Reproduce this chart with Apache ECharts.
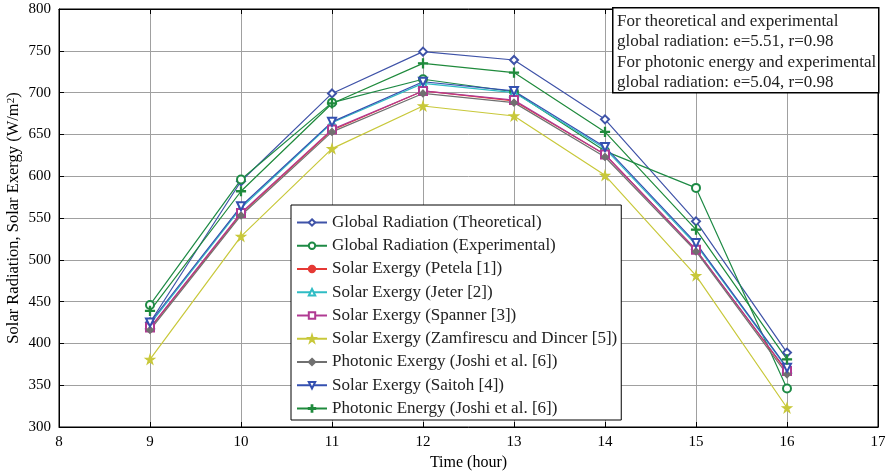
<!DOCTYPE html>
<html>
<head>
<meta charset="utf-8">
<script src="https://cdn.jsdelivr.net/npm/echarts@6/dist/echarts.min.js"></script>
<style>
	html, body { margin: 0; padding: 0; background: #fff; }
	#chart { width: 894px; height: 472px; }
</style>
</head>
<body>
<div id="chart"></div>
<script>
// hours of the day
const hours = [9, 10, 11, 12, 13, 14, 15, 16];

// series values (W/m2)
const theoretical = [425, 594, 699, 749, 739, 668, 546, 389];
const experimental = [446, 596, 688, 716, 701, 630, 586, 346];
const petela = [418, 555, 655, 702, 690, 626, 512, 366];
const jeter = [423, 562, 664, 711, 700, 633, 518, 370];
const spanner = [419, 556, 656, 702, 691, 626, 512, 367];
const zamfirescu = [381, 528, 633, 684, 672, 601, 481, 323];
const joshiExergy = [416, 553, 653, 699, 688, 623, 510, 363];
const saitoh = [425, 564, 665, 713, 702, 635, 520, 371];
const photonicEnergy = [439, 582, 687, 735, 724, 653, 536, 381];

const xTicks = { min: 8, max: 17, interval: 1 };
const yTicks = { min: 300, max: 800, interval: 50 };

const note = [
	'For theoretical and experimental',
	'global radiation: e=5.51, r=0.98',
	'For photonic energy and experimental',
	'global radiation: e=5.04, r=0.98'
];

const serif = '"Liberation Serif", "DejaVu Serif", serif';
const starPath = 'path://M50,0L61,35L98,35L68,57L79,91L50,70L21,91L32,57L2,35L39,35Z';
const plusPath = 'path://M4.4,0H5.6V10H4.4ZM0,4.4H10V5.6H0Z';

const pair = (arr) => hours.map((h, i) => [h, arr[i]]);

// 一条曲线的配置
const mkSeries = (name, data, color, symbol, size, rotate) => ({
	name,
	type: 'line',
	data: pair(data),
	symbol,
	symbolSize: size,
	symbolRotate: rotate || 0,
	lineStyle: { color, width: 1.2 },
	itemStyle: { color, borderColor: color, borderWidth: 1.2 },
	emphasis: { disabled: true },
	z: 2
});

const myChart = echarts.init(document.getElementById('chart'));
const option = {
	animation: false,
	grid: {
		left: 59, right: 16, top: 9, bottom: 45,
		outerBoundsMode: 'none',
		show: true, borderColor: '#000', borderWidth: 1, backgroundColor: '#fff'
	},
	xAxis: [
		{
			type: 'value', ...xTicks,
			name: 'Time (hour)', nameLocation: 'middle', nameGap: 26,
			nameTextStyle: { fontFamily: serif, fontSize: 16, color: '#000' },
			axisLine: { lineStyle: { color: '#000' } },
			axisTick: { inside: true, length: 5, lineStyle: { color: '#000' } },
			axisLabel: { fontFamily: serif, fontSize: 15, color: '#000', margin: 8 },
			splitLine: { lineStyle: { color: '#a0a0a0', width: 1 } }
		},
		{
			type: 'value', ...xTicks, position: 'top',
			axisLine: { lineStyle: { color: '#000' } },
			axisTick: { inside: true, length: 5, lineStyle: { color: '#000' } },
			axisLabel: { show: false }, splitLine: { show: false }
		}
	],
	yAxis: [
		{
			type: 'value', ...yTicks,
			axisLine: { lineStyle: { color: '#000' } },
			axisTick: { inside: true, length: 5, lineStyle: { color: '#000' } },
			axisLabel: { fontFamily: serif, fontSize: 15, color: '#000', margin: 8 },
			splitLine: { lineStyle: { color: '#a0a0a0', width: 1 } }
		},
		{
			type: 'value', ...yTicks, position: 'right',
			axisLine: { lineStyle: { color: '#000' } },
			axisTick: { inside: true, length: 5, lineStyle: { color: '#000' } },
			axisLabel: { show: false }, splitLine: { show: false }
		}
	],
	legend: {
		orient: 'vertical',
		left: 291, top: 205,
		backgroundColor: '#fff',
		borderColor: '#000', borderWidth: 1,
		padding: [9, 4, 3, 5],
		itemWidth: 30, itemHeight: 8, itemGap: 6.25,
		textStyle: { fontFamily: serif, fontSize: 17, lineHeight: 15, color: '#222' },
		z: 10
	},
	graphic: [
		// y 轴标题
		{
			type: 'text', x: 14, y: 218, rotation: Math.PI / 2, z: 5,
			style: {
				text: '{a|Solar Radiation, Solar Exergy (W/m}{s|2}{a|)}',
				align: 'center', verticalAlign: 'middle',
				rich: {
					a: { fontFamily: serif, fontSize: 16.5, fill: '#000' },
					s: { fontFamily: serif, fontSize: 11, fill: '#000', verticalAlign: 'top', padding: [0, 0, 6, 0] }
				}
			}
		},
		{
			type: 'rect', left: 612, top: 7, z: 20,
			shape: { width: 266, height: 85 },
			style: { fill: '#fff', stroke: '#000', lineWidth: 1.5 }
		},
		{
			type: 'text', left: 617, top: 11, z: 21,
			style: { text: note.join('\n'), font: '17px ' + serif, lineHeight: 20.5, fill: '#222' }
		}
	],
	series: [
		mkSeries('Global Radiation (Theoretical)', theoretical, '#3f53a8', 'emptyDiamond', 8),
		mkSeries('Global Radiation (Experimental)', experimental, '#1e8a45', 'emptyCircle', 8),
		mkSeries('Solar Exergy (Petela [1])', petela, '#e53935', 'circle', 5),
		mkSeries('Solar Exergy (Jeter [2])', jeter, '#2fbcc4', 'emptyTriangle', 8),
		mkSeries('Solar Exergy (Spanner [3])', spanner, '#b03a92', 'emptyRect', 8),
		mkSeries('Solar Exergy (Zamfirescu and Dincer [5])', zamfirescu, '#c8c83a', starPath, 9),
		mkSeries('Photonic Exergy (Joshi et al. [6])', joshiExergy, '#707070', 'diamond', 7),
		mkSeries('Solar Exergy (Saitoh [4])', saitoh, '#3450b0', 'emptyTriangle', 8, 180),
		mkSeries('Photonic Energy (Joshi et al. [6])', photonicEnergy, '#1f8a3c', plusPath, 9)
	]
};
myChart.setOption(option);
</script>
</body>
</html>
